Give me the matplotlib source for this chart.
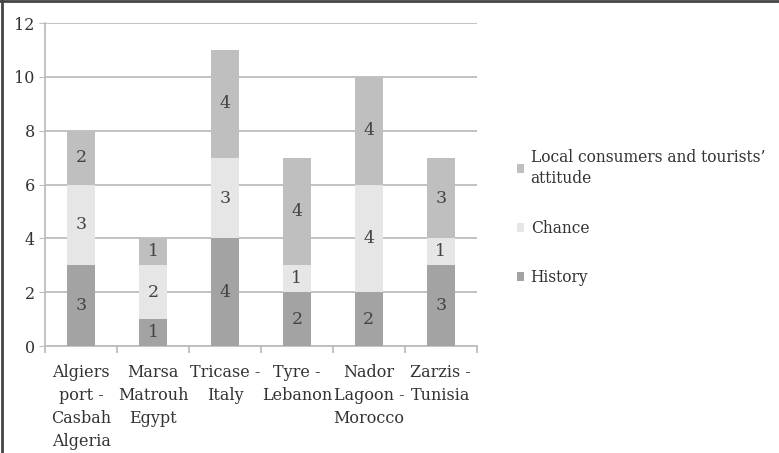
import numpy as np
import matplotlib.pyplot as plt
from matplotlib.lines import Line2D

sites = ["Algiers\nport -\nCasbah\nAlgeria", "Marsa\nMatrouh\nEgypt", "Tricase -\nItaly",
         "Tyre -\nLebanon", "Nador\nLagoon -\nMorocco", "Zarzis -\nTunisia"]
history = [3, 1, 4, 2, 2, 3]
chance = [3, 2, 3, 1, 4, 1]
local_attitude = [2, 1, 4, 4, 4, 3]

plt.rcParams['font.family'] = ['DejaVu Serif']

fig = plt.figure(figsize=(7.79, 4.53), dpi=100)
ax = fig.add_axes([0.058, 0.236, 0.554, 0.713])

x = np.arange(len(sites))
w = 0.39
b1 = ax.bar(x, history, w, color='#a3a3a3', label='History', zorder=3)
b2 = ax.bar(x, chance, w, bottom=history, color='#e6e6e6', label='Chance', zorder=3)
bottom2 = np.array(history) + np.array(chance)
b3 = ax.bar(x, local_attitude, w, bottom=bottom2, color='#bfbfbf',
            label="Local consumers and tourists\u2019\nattitude", zorder=3)
for b in (b1, b2, b3):
    ax.bar_label(b, label_type='center', fontsize=12.5, color='#444444')

ax.set_xlim(-0.5, len(sites) - 0.5)
ax.set_ylim(0, 12)
ax.set_yticks(range(0, 13, 2))
ax.yaxis.grid(True, color='#bdbdbd', linewidth=1.3, zorder=0)
for s in ('top', 'right'):
    ax.spines[s].set_visible(False)
ax.spines['left'].set_color('#bdbdbd')
ax.spines['bottom'].set_color('#bdbdbd')
ax.spines['left'].set_linewidth(1.3)
ax.spines['bottom'].set_linewidth(1.3)

ax.set_xticks(x)
ax.set_xticklabels(sites, fontsize=11.5, color='#333333', linespacing=1.45)
ax.tick_params(axis='x', length=0, pad=13)
ax.set_xticks(np.arange(-0.5, len(sites)), minor=True)
ax.tick_params(axis='x', which='minor', length=5, color='#bdbdbd', width=1.3)
ax.tick_params(axis='y', length=4, color='#bdbdbd', labelsize=11.5, labelcolor='#333333')

handles = [b3, b2, b1]
leg = ax.legend(handles, [h.get_label() for h in handles], loc='upper left',
                bbox_to_anchor=(1.06, 0.655), frameon=False, fontsize=11.2,
                handlelength=0.5, handleheight=0.5, handletextpad=0.4,
                labelspacing=2.1, labelcolor='#333333')
for t in leg.get_texts():
    t.set_linespacing(1.35)

fig.add_artist(Line2D([0, 1], [0.998, 0.998], color='#444444', linewidth=2))
fig.add_artist(Line2D([0.002, 0.002], [0, 1], color='#444444', linewidth=2))

fig.savefig('out.png', dpi=100)
